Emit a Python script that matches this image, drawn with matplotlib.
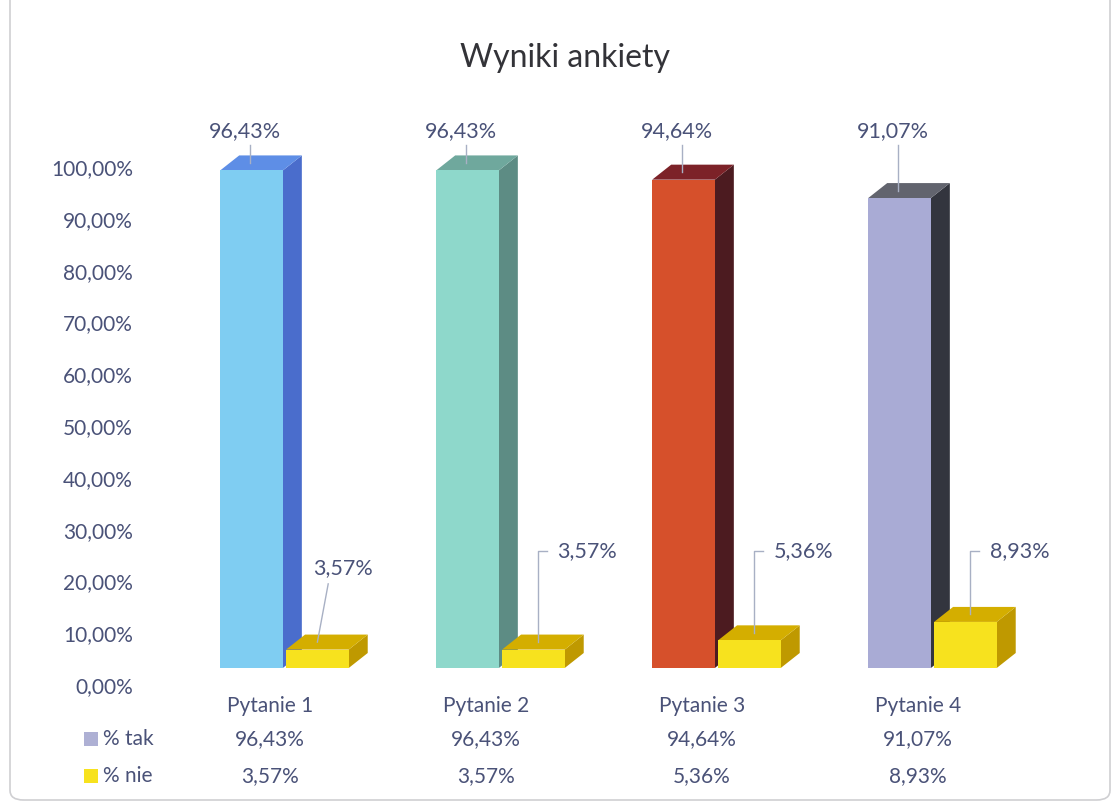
import matplotlib.pyplot as plt
from matplotlib.patches import Polygon, FancyBboxPatch, Rectangle
from matplotlib.transforms import blended_transform_factory

plt.rcParams['font.family'] = ['Lato', 'DejaVu Sans']

# data
questions = ['Pytanie 1', 'Pytanie 2', 'Pytanie 3', 'Pytanie 4']
pct_tak = [96.43, 96.43, 94.64, 91.07]
pct_nie = [3.57, 3.57, 5.36, 8.93]
series_names = ['% tak', '% nie']
y_ticks = [0, 10, 20, 30, 40, 50, 60, 70, 80, 90, 100]

# colours (front, side, top)
tak_colors = [('#7fcdf2', '#4a6dcc', '#5e8ee6'),
              ('#8ed8cb', '#5d8c84', '#6fa89d'),
              ('#d6502b', '#4c1b20', '#7c2228'),
              ('#a9abd5', '#33353e', '#62646e')]
nie_colors = ('#f7e21e', '#bf9900', '#d4ae00')
legend_colors = ['#aeb0d4', '#f7e21e']
text_col = '#4a5278'
line_col = '#a8b0c4'


def fmt(v):
    return f"{v:.2f}".replace('.', ',') + '%'


W, H = 1113, 807
fig = plt.figure(figsize=(W / 100, H / 100), dpi=100)

# rounded outer frame
fig.patches.append(FancyBboxPatch((10 / W, 7 / H), 1100 / W, 1.2, transform=fig.transFigure,
                                  boxstyle='round,pad=0,rounding_size=0.012',
                                  fill=False, edgecolor='#cfcfd2', linewidth=1.2))

# main axes: y=0 at pixel 668, 5.16 px per %
px_per = 5.16
ax = fig.add_axes([150 / W, (H - 668) / H, 910 / W, 110 * px_per / H])
ax.set_xlim(-0.625, -0.625 + 910 / 216)
ax.set_ylim(0, 110)
ax.axis('off')

# tick labels axes (shifted slightly below, like the original)
ax_t = fig.add_axes([140 / W, (H - 685) / H, 1 / W, 110 * 5.18 / H])
ax_t.set_ylim(0, 110)
ax_t.set_xticks([])
ax_t.set_yticks(y_ticks)
ax_t.set_yticklabels([fmt(v) for v in y_ticks], color=text_col, fontsize=15)
ax_t.tick_params(axis='y', length=0, pad=5)
for s in ax_t.spines.values():
    s.set_visible(False)
ax_t.patch.set_visible(False)

dx, dy = 19 / 216, 15 / px_per
w = 0.29


def bar3d(x0, h, cols, z):
    front, side, top = cols
    x1 = x0 + w
    ax.add_patch(Polygon([(x1, 0), (x1 + dx, dy), (x1 + dx, h + dy), (x1, h)],
                         closed=True, facecolor=side, edgecolor='none', zorder=z))
    ax.add_patch(Polygon([(x0, h), (x0 + dx, h + dy), (x1 + dx, h + dy), (x1, h)],
                         closed=True, facecolor=top, edgecolor='none', zorder=z))
    ax.bar(x0, h, width=w, align='edge', color=front, zorder=z + 0.1)


for i in range(len(questions)):
    bar3d(i - 0.30, pct_tak[i], tak_colors[i], 2 + i)
    bar3d(i + 0.005, pct_nie[i], nie_colors, 2.5 + i)

# labels for "tak" (all at about the same height, as in the original)
tak_label_y = 104.0
for i, v in enumerate(pct_tak):
    lx = i - 0.16
    ax.plot([lx, lx], [v + 0.5 * dy, tak_label_y - 2.6], color=line_col, lw=1, zorder=10)
    ax.text(i - 0.185, tak_label_y, fmt(v), ha='center', va='center',
            color=text_col, fontsize=15.5, zorder=11)

# labels for "nie"
nie_lab_dx = [0.27, 0.40, 0.40, 0.40]
for i, v in enumerate(pct_nie):
    if i == 0:
        ax.text(i + nie_lab_dx[i], 19.4, fmt(v), ha='center', va='center',
                color=text_col, fontsize=15.5, zorder=11)
        ax.plot([i + 0.2, i + 0.15], [16.3, v + 0.5 * dy], color=line_col, lw=1, zorder=10)
    else:
        ly = 22.6
        ax.text(i + nie_lab_dx[i], ly, fmt(v), ha='center', va='center',
                color=text_col, fontsize=15.5, zorder=11)
        ax.plot([i + 0.215, i + 0.17, i + 0.17], [ly, ly, v + 0.5 * dy],
                color=line_col, lw=1, zorder=10)

# title
fig.text(565 / W, 1 - 58 / H, 'Wyniki ankiety', ha='center', va='center',
         color='#333338', fontsize=23)

# data table under the chart
tr = blended_transform_factory(ax.transData, fig.transFigure)
rows_y = [706, 739, 776]
for i, q in enumerate(questions):
    ax.text(i - 0.07, 1 - rows_y[0] / H, q, transform=tr, ha='center', va='center',
            color=text_col, fontsize=15)
    ax.text(i - 0.07, 1 - rows_y[1] / H, fmt(pct_tak[i]), transform=tr, ha='center',
            va='center', color=text_col, fontsize=15)
    ax.text(i - 0.07, 1 - rows_y[2] / H, fmt(pct_nie[i]), transform=tr, ha='center',
            va='center', color=text_col, fontsize=15)

for name, col, yy in zip(series_names, legend_colors, rows_y[1:]):
    fig.patches.append(Rectangle((84 / W, 1 - (yy + 7) / H), 14 / W, 14 / H,
                                 transform=fig.transFigure, facecolor=col, edgecolor='none'))
    fig.text(103 / W, 1 - yy / H, name, ha='left', va='center', color=text_col, fontsize=15)

fig.savefig('out.png', dpi=100, facecolor='white')
